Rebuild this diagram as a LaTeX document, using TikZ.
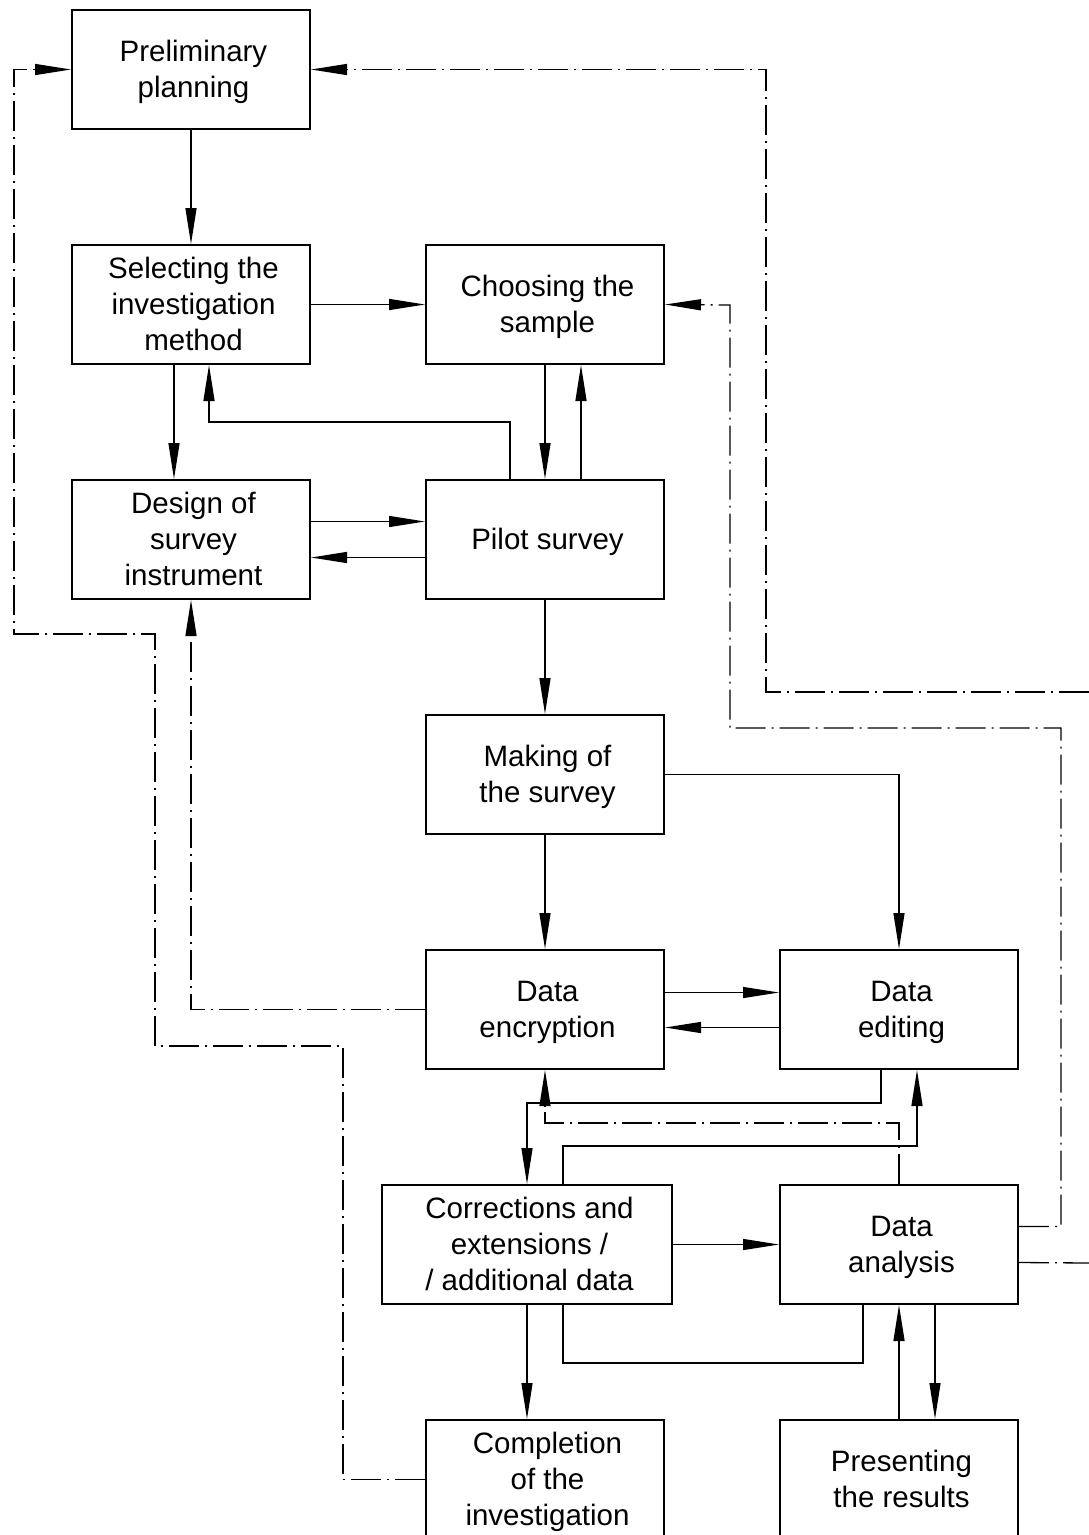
\documentclass[tikz,border=0pt]{standalone}
\usepackage{fontspec}
\setmainfont{Liberation Sans}
\usetikzlibrary{arrows.meta}
\newcommand\bxt[1]{\kern2.5pt\raisebox{-3pt}[\height][\depth]{\begin{tabular}{@{}c@{}}#1\end{tabular}}\kern-2.5pt}
\begin{document}
\begin{tikzpicture}[x=1pt,y=-1pt,
  box/.style={draw,line width=2pt,minimum width=238pt,minimum height=119pt,inner sep=0pt,font=\fontsize{29.5}{36}\selectfont},
  conn/.style={line width=1.3pt},
  arr/.style={conn,-{Triangle[length=36pt,width=11pt]}},
  dd/.style={dash pattern=on 30pt off 6pt on 2pt off 6pt}]
\useasboundingbox (0,0) rectangle (1089,1535);
\node[box] (pp)  at (191,69.5) {\bxt{Preliminary\\planning}};
\node[box] (sel) at (191,304.5) {\bxt{Selecting the\\investigation\\method}};
\node[box] (ch)  at (545,304.5) {\bxt{Choosing the\\sample}};
\node[box] (des) at (191,539.5) {\bxt{Design of\\survey\\instrument}};
\node[box] (pil) at (545,539.5) {\bxt{Pilot survey}};
\node[box] (mak) at (545,774.5) {\bxt{Making of\\the survey}};
\node[box] (enc) at (545,1009.5) {\bxt{Data\\encryption}};
\node[box] (edi) at (899,1009.5) {\bxt{Data\\editing}};
\node[box,minimum width=290pt] (cor) at (527,1244.5) {\bxt{Corrections and\\extensions /\\/ additional data}};
\node[box] (ana) at (899,1244.5) {\bxt{Data\\analysis}};
\node[box] (com) at (545,1479.5) {\bxt{Completion\\of the\\investigation}};
\node[box] (pre) at (899,1479.5) {\bxt{Presenting\\the results}};
\coordinate (exA) at (1089,1263);
\coordinate (exB) at (1089,692);
% solid connectors
\draw[arr] (pp.south) -- (sel.north);
\draw[arr] (sel.east) -- (ch.west);
\draw[arr] ([xshift=-17pt]sel.south) -- ([xshift=-17pt]des.north);
\draw[arr] ([xshift=-35pt]pil.north) |- (209,422) -- ([xshift=18pt]sel.south);
\draw[arr] (ch.south) -- (pil.north);
\draw[arr] ([xshift=36pt]pil.north) -- ([xshift=36pt]ch.south);
\draw[arr] ([yshift=18pt]des.east) -- ([yshift=18pt]pil.west);
\draw[arr] ([yshift=-18pt]pil.west) -- ([yshift=-18pt]des.east);
\draw[arr] (pil.south) -- (mak.north);
\draw[arr] (mak.east) -| (edi.north);
\draw[arr] (mak.south) -- (enc.north);
\draw[arr] ([yshift=17pt]enc.east) -- ([yshift=17pt]edi.west);
\draw[arr] ([yshift=-18pt]edi.west) -- ([yshift=-18pt]enc.east);
\draw[arr] ([xshift=-18pt]edi.south) -- ([xshift=-18pt,yshift=-33pt]edi.south) -| (cor.north);
\draw[arr] ([xshift=36pt]cor.north) |- ([xshift=18pt,yshift=-76pt]edi.south) -- ([xshift=18pt]edi.south);
\draw[arr] (cor.east) -- (ana.west);
\draw[conn] ([xshift=-36pt]ana.south) |- ([xshift=36pt,yshift=-58pt]cor.south) -- ([xshift=36pt]cor.south);
\draw[arr] (cor.south) -- (cor.south |- com.north);
\draw[arr] (pre.north) -- (ana.south);
\draw[arr] ([xshift=36pt]ana.south) -- ([xshift=36pt]pre.north);
% dash-dot connectors
\draw[arr,dd] (enc.west) -| (des.south);
\draw[arr,dd] (ana.north) |- ([yshift=-53pt]enc.south) -- (enc.south);
\draw[arr,dd] ([yshift=18pt]ana.east) -| (1061,728) -| (730,305) -- (ch.east);
\draw[conn,dd] ([yshift=-18pt]ana.east) -- (exA);
\draw[arr,dd] (exB) -| (766,69.5) -- (pp.east);
\draw[arr,dd] (com.west) -| (343,1046) -| (155,634) -| (14,69.5) -- (pp.west);
\end{tikzpicture}
\end{document}
